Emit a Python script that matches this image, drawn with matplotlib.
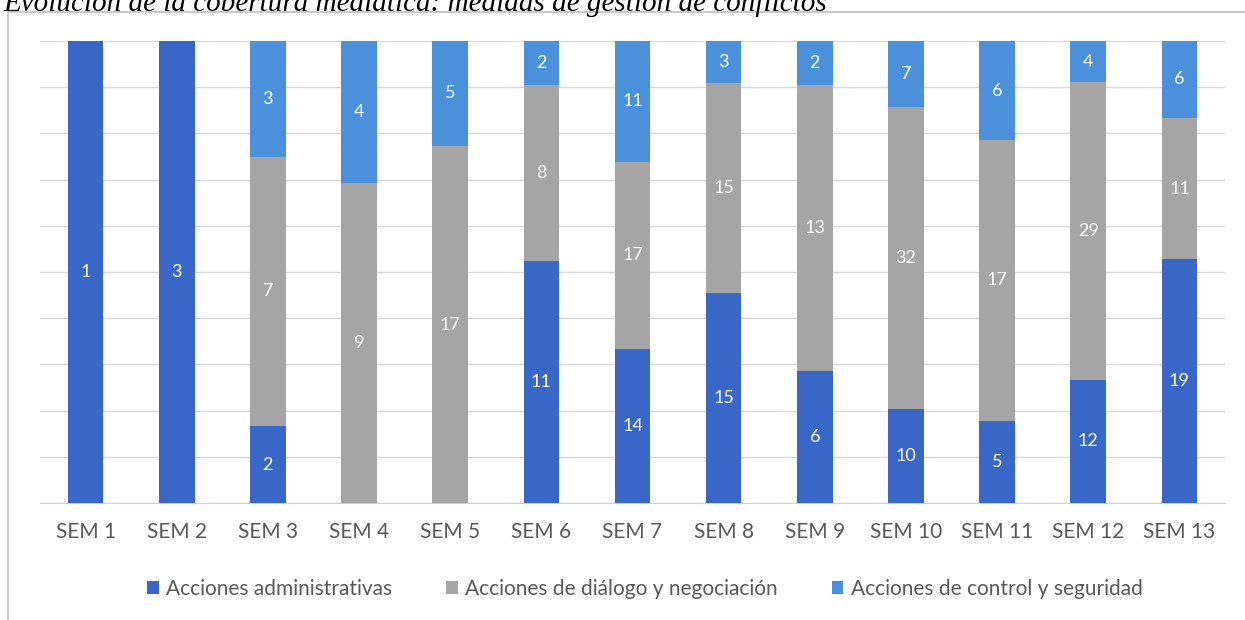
import numpy as np
import matplotlib
matplotlib.use('Agg')
import matplotlib.pyplot as plt
from matplotlib.patches import Rectangle

weeks = ['SEM 1', 'SEM 2', 'SEM 3', 'SEM 4', 'SEM 5', 'SEM 6', 'SEM 7',
         'SEM 8', 'SEM 9', 'SEM 10', 'SEM 11', 'SEM 12', 'SEM 13']
admin = [1, 3, 2, 0, 0, 11, 14, 15, 6, 10, 5, 12, 19]
dialogo = [0, 0, 7, 9, 17, 8, 17, 15, 13, 32, 17, 29, 11]
control = [0, 0, 3, 4, 5, 2, 11, 3, 2, 7, 6, 4, 6]

series_names = ['Acciones administrativas', 'Acciones de diálogo y negociación',
                'Acciones de control y seguridad']
colors = ['#3867c8', '#a5a5a5', '#4a90da']

plt.rcParams['font.family'] = ['Lato', 'DejaVu Sans']

fig = plt.figure(figsize=(12.45, 6.2), dpi=100)
ax = fig.add_axes([40 / 1245, 117 / 620, 1185 / 1245, 462 / 620])

data = np.array([admin, dialogo, control], dtype=float)
totals = data.sum(axis=0)
pct = data / totals * 100
x = np.arange(len(weeks))
bottom = np.zeros(len(weeks))
bars = []
for i in range(3):
    b = ax.bar(x, pct[i], bottom=bottom, width=0.39, color=colors[i],
               label=series_names[i], zorder=3)
    bars.append(b)
    for j in range(len(weeks)):
        if data[i, j] > 0:
            ax.text(x[j], bottom[j] + pct[i, j] / 2, str(int(data[i, j])),
                    ha='center', va='center', color='white', fontsize=13,
                    zorder=4)
    bottom += pct[i]

ax.set_ylim(0, 100)
ax.set_xlim(-0.5, len(weeks) - 0.5)
ax.set_yticks(np.arange(0, 101, 10))
ax.yaxis.grid(True, color='#d9d9d9', linewidth=1, zorder=0)
ax.tick_params(axis='y', left=False, labelleft=False)
ax.tick_params(axis='x', bottom=False, labelsize=15, labelcolor='#595959', pad=10)
ax.set_xticks(x)
ax.set_xticklabels(weeks)
for s in ['top', 'right', 'left']:
    ax.spines[s].set_visible(False)
ax.spines['bottom'].set_color('#d0d0d0')

leg = fig.legend(handles=bars, labels=series_names, loc='center',
                 bbox_to_anchor=(0.518, 31 / 620), ncol=3, frameon=False,
                 fontsize=15, handlelength=0.55, handleheight=0.55,
                 handletextpad=0.35, columnspacing=2.6)
for t in leg.get_texts():
    t.set_color('#595959')

# chart area frame
fig.patches.append(Rectangle((8 / 1245, -0.01), 1.1, 1 - 12 / 620 + 0.01,
                             transform=fig.transFigure, fill=False,
                             edgecolor='#bfbfbf', linewidth=1.2))

fig.text(0.003, 0.995, 'Evolución de la cobertura mediática: medidas de gestión de conflictos',
         ha='left', va='center', fontsize=21, style='italic',
         family=['Liberation Serif', 'DejaVu Serif'])

fig.savefig('out.png', dpi=100)
